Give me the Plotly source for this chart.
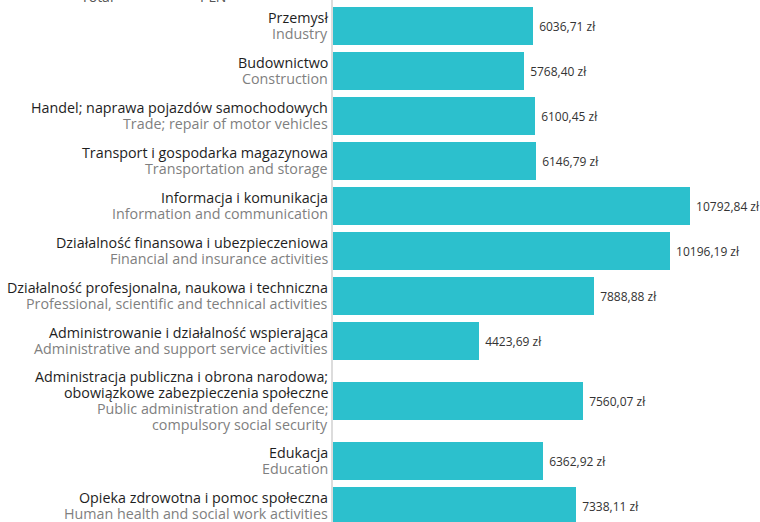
import plotly.graph_objects as go

# Przeciętne miesięczne wynagrodzenie wg sekcji PKD
sekcje_pl = [
    ["Przemysł"],
    ["Budownictwo"],
    ["Handel; naprawa pojazdów samochodowych"],
    ["Transport i gospodarka magazynowa"],
    ["Informacja i komunikacja"],
    ["Działalność finansowa i ubezpieczeniowa"],
    ["Działalność profesjonalna, naukowa i techniczna"],
    ["Administrowanie i działalność wspierająca"],
    ["Administracja publiczna i obrona narodowa;", "obowiązkowe zabezpieczenia społeczne"],
    ["Edukacja"],
    ["Opieka zdrowotna i pomoc społeczna"],
]
sekcje_en = [
    ["Industry"],
    ["Construction"],
    ["Trade; repair of motor vehicles"],
    ["Transportation and storage"],
    ["Information and communication"],
    ["Financial and insurance activities"],
    ["Professional, scientific and technical activities"],
    ["Administrative and support service activities"],
    ["Public administration and defence;", "compulsory social security"],
    ["Education"],
    ["Human health and social work activities"],
]
wynagrodzenie = [6036.71, 5768.40, 6100.45, 6146.79, 10792.84, 10196.19,
                 7888.88, 4423.69, 7560.07, 6362.92, 7338.11]

W, H = 760, 522
LEFT = 333
LINE = 16          # odstęp między liniami etykiety (px)
FONT = "Open Sans"

# środki wierszy liczone z liczby linii etykiet
n_lines = [len(a) + len(b) for a, b in zip(sekcje_pl, sekcje_en)]
slots = [15 * n + 15 for n in n_lines]
centers = []
y = 26
for i, s in enumerate(slots):
    if i > 0:
        y += (slots[i - 1] + s) / 2
    centers.append(y)

def fmt(v):
    return f"{v:.2f}".replace(".", ",") + " zł"

fig = go.Figure(go.Bar(
    x=wynagrodzenie,
    y=centers,
    orientation="h",
    width=38,
    marker=dict(color="#2cc0cd", line=dict(width=0)),
    text=[" " + fmt(v) for v in wynagrodzenie],
    textposition="outside",
    textfont=dict(family=FONT, size=12, color="#333333"),
    cliponaxis=False,
    hoverinfo="skip",
))

annotations = []
for c, pl, en in zip(centers, sekcje_pl, sekcje_en):
    lines = [(t, "#1e1e1e") for t in pl] + [(t, "#7f7f7f") for t in en]
    n = len(lines)
    for k, (t, col) in enumerate(lines):
        annotations.append(dict(
            x=0, xref="paper", xanchor="right", xshift=-3,
            y=c - 1 + (k - (n - 1) / 2) * LINE, yref="y", yanchor="middle",
            text=t, showarrow=False, align="right",
            font=dict(family=FONT, size=14.3, color=col),
        ))

# nagłówek ucięty u góry
for txt, px in [("Total", 97), ("PLN", 213)]:
    annotations.append(dict(
        x=(px - LEFT) / (W - LEFT), xref="paper", y=1, yref="paper",
        xanchor="center", yanchor="bottom", yshift=-8,
        text=txt, showarrow=False,
        font=dict(family=FONT, size=14, color="#555555"),
    ))

fig.update_layout(
    width=W, height=H,
    margin=dict(l=LEFT, r=0, t=0, b=0),
    paper_bgcolor="white", plot_bgcolor="white",
    showlegend=False,
    bargap=0,
    annotations=annotations,
    font=dict(family=FONT),
)
fig.update_xaxes(range=[0, (W - LEFT - 1) / 0.03298], visible=False, showgrid=False, zeroline=False)
fig.update_yaxes(range=[H, 0], showticklabels=False, showgrid=False, zeroline=False,
                 showline=True, linecolor="#dcdcdc", linewidth=2, ticks="")

fig.write_html("out.html", config={"displayModeBar": False},
               post_script="document.body.style.margin='0';")
